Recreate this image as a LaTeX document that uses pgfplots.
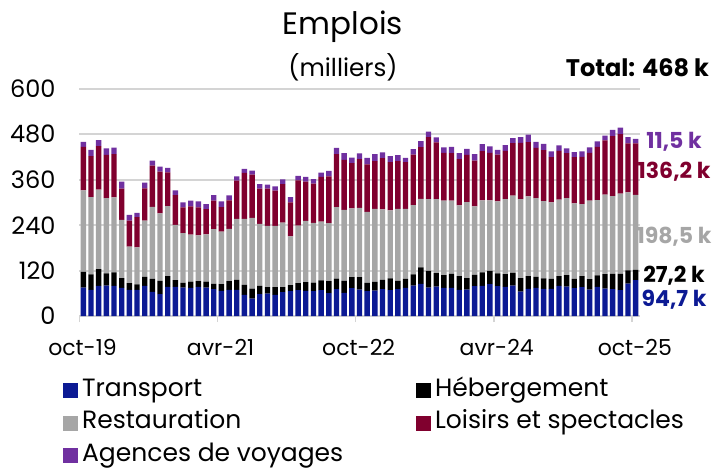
\documentclass[border=0pt]{standalone}
\usepackage{fontspec}
\setmainfont{Poppins}
\usepackage{pgfplots}
\usepackage{pgfplotstable}
\pgfplotsset{compat=1.18}
\definecolor{transp}{HTML}{0C1A94}
\definecolor{heberg}{HTML}{000000}
\definecolor{resto}{HTML}{A6A6A6}
\definecolor{loisirs}{HTML}{80002E}
\definecolor{agences}{HTML}{7030A0}
\definecolor{gridc}{HTML}{D4D4D4}

% mois 0 = oct-19 ... 72 = oct-25 ; milliers d'emplois
\pgfplotstableread{
m T H R L A
0 75.3 41.6 215.2 115.1 13.3
1 69.1 40.7 204.6 108.0 16.8
2 79.7 44.3 209.9 115.1 15.9
3 80.6 31.9 199.3 114.2 16.8
4 79.7 35.4 198.4 114.2 17.7
5 74.4 25.7 154.1 82.4 18.6
6 69.1 17.7 96.5 69.1 15.1
7 69.1 14.2 98.3 79.7 11.5
8 79.7 23.9 148.8 85.0 15.1
9 63.8 34.5 190.4 108.9 13.3
10 57.6 35.4 178.0 110.7 13.3
11 77.0 28.3 185.1 89.4 11.5
12 77.0 17.7 146.1 78.8 12.4
13 75.3 12.4 131.1 68.2 13.3
14 74.4 16.8 124.0 74.4 15.1
15 77.0 15.1 121.3 73.5 15.9
16 75.3 15.9 124.9 66.4 13.3
17 70.8 14.2 144.4 75.3 15.1
18 66.4 17.7 139.0 64.6 15.1
19 69.1 23.0 138.2 75.3 13.3
20 69.1 26.6 161.2 101.0 11.5
21 55.8 26.6 174.5 121.3 10.6
22 46.1 26.6 186.9 114.2 10.6
23 57.6 22.1 163.8 93.0 12.4
24 59.3 16.8 162.1 98.3 10.6
25 55.8 20.4 162.1 93.0 11.5
26 62.9 13.3 170.9 101.8 12.4
27 65.5 15.9 129.3 89.4 14.2
28 68.2 18.6 152.3 119.6 11.5
29 66.4 23.0 162.1 103.6 12.4
30 65.5 23.0 157.6 103.6 12.4
31 68.2 25.7 155.9 117.8 11.5
32 60.2 31.9 153.2 124.0 14.2
33 70.8 28.3 188.6 139.9 16.8
34 61.1 31.9 187.7 132.0 17.7
35 73.5 29.2 181.5 119.6 15.1
36 70.0 32.8 183.3 128.4 15.1
37 65.5 22.1 187.7 125.8 16.8
38 67.3 23.0 193.1 125.8 18.6
39 70.8 24.8 186.0 135.5 15.1
40 68.2 31.0 179.8 127.5 15.9
41 70.8 22.1 190.4 125.8 15.9
42 74.4 23.9 185.1 123.1 11.5
43 80.6 29.2 183.3 133.7 14.2
44 85.0 43.4 181.5 136.4 15.9
45 75.3 44.3 189.5 163.8 14.2
46 77.9 35.4 195.7 149.7 13.3
47 74.4 33.7 196.6 126.6 14.2
48 74.4 37.2 193.1 125.8 16.8
49 69.1 36.3 186.9 122.2 15.9
50 70.0 30.1 201.0 124.9 15.9
51 78.8 30.1 180.7 121.3 16.8
52 79.7 35.4 190.4 130.2 18.6
53 84.1 35.4 186.0 125.8 16.8
54 78.8 33.7 190.4 124.0 12.4
55 77.0 33.7 198.4 127.5 15.1
56 80.6 33.7 203.7 139.0 13.3
57 64.6 35.4 209.0 148.8 15.1
58 71.7 33.7 210.8 143.5 19.5
59 74.4 29.2 208.1 132.8 15.9
60 71.7 27.5 204.6 134.6 16.8
61 71.7 26.6 201.9 119.6 15.1
62 79.7 25.7 201.9 129.3 14.2
63 77.9 30.1 203.7 118.7 12.4
64 73.5 24.8 199.3 122.2 13.3
65 76.2 29.2 190.4 124.9 14.2
66 70.0 27.5 207.2 126.6 14.2
67 77.0 30.1 199.3 140.8 14.2
68 72.6 38.1 209.9 143.5 12.4
69 70.8 40.7 205.5 158.5 16.8
70 68.2 43.4 211.7 157.6 16.8
71 85.9 34.5 206.3 129.3 16.8
72 94.7 27.2 198.5 136.2 11.5
}\emplois

\begin{document}
\begin{tikzpicture}
\begin{axis}[
  scale only axis, width=280pt, height=113.5pt,
  ybar stacked, bar width=0.7, clip=false,
  xmin=-0.5, xmax=72.5, ymin=0, ymax=600,
  ytick={0,120,...,600},
  xtick={-0.5,17.5,35.5,53.5,71.5},
  xticklabels={oct-19,avr-21,oct-22,avr-24,oct-25},
  axis x line*=bottom, axis y line*=left,
  y axis line style={draw=none},
  x axis line style={draw=gridc, line width=0.8pt},
  ytick style={draw=none},
  xtick style={draw=gridc, line width=0.8pt},
  tick align=outside, major tick length=3pt,
  ymajorgrids, grid style={gridc, line width=1pt},
  /pgf/number format/assume math mode=true,
  yticklabel style={font=\fontsize{12}{14}\selectfont, xshift=-5.5pt},
  xticklabel style={font=\fontsize{11}{13}\selectfont, yshift=-5pt, xshift=1.5pt},
  legend columns=2,
  legend cell align=left,
  legend image code/.code={\fill[#1] (0pt,-3.75pt) rectangle (7.5pt,3.75pt);},
  legend style={draw=none, fill=none, at={(-0.03,-0.255)}, anchor=north west,
    font=\fontsize{12.5}{15}\selectfont, inner sep=0pt,
    nodes={inner ysep=0pt, text height=11pt, text depth=5.25pt}},
]
\addplot[fill=transp, draw=none] table[x=m, y=T] {\emplois};
\addlegendentry{\makebox[165pt][l]{Transport}}
\addplot[fill=heberg, draw=none] table[x=m, y=H] {\emplois};
\addlegendentry{Hébergement}
\addplot[fill=resto, draw=none] table[x=m, y=R] {\emplois};
\addlegendentry{\makebox[165pt][l]{Restauration}}
\addplot[fill=loisirs, draw=none] table[x=m, y=L] {\emplois};
\addlegendentry{Loisirs et spectacles}
\addplot[fill=agences, draw=none] table[x=m, y=A] {\emplois};
\addlegendentry{\makebox[165pt][l]{Agences de voyages}}

\node[anchor=base, font=\fontsize{15.5}{17}\selectfont] at (rel axis cs:0.4705,1.238) {Emplois};
\node[anchor=base, font=\fontsize{12.3}{14}\selectfont] at (rel axis cs:0.4705,1.057) {(milliers)};
\node[anchor=base, font=\bfseries\fontsize{12}{14}\selectfont] at (rel axis cs:0.9964,1.053) {Total: 468 k};

\node[font=\bfseries\fontsize{11}{13}\selectfont, text=agences] at (axis cs:77.0,460.7) {11,5 k};
\node[font=\bfseries\fontsize{11}{13}\selectfont, text=loisirs] at (axis cs:77.0,381.4) {136,2 k};
\node[font=\bfseries\fontsize{11}{13}\selectfont, text=resto] at (axis cs:77.0,209.6) {198,5 k};
\node[font=\bfseries\fontsize{11}{13}\selectfont, text=heberg] at (axis cs:77.0,105.7) {27,2 k};
\node[font=\bfseries\fontsize{11}{13}\selectfont, text=transp] at (axis cs:77.0,42.3) {94,7 k};
\end{axis}
\pgfresetboundingbox
\path (current axis.south west) ++(-39.75pt,-76pt) rectangle ++(359pt,234pt);
\end{tikzpicture}
\end{document}
